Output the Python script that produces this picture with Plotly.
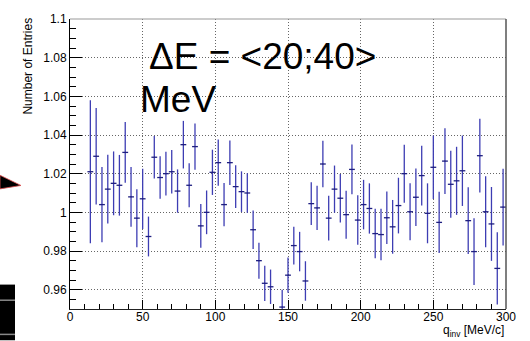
import plotly.graph_objects as go

# ---- data ----
q_inv = [14, 18, 22, 26, 30, 34, 38, 42, 46, 50, 54, 58, 62, 66, 70, 74, 78, 82,
         86, 90, 94, 98, 102, 106, 110, 114, 118, 122, 126, 130, 134, 138, 142, 146,
         150, 154, 158, 162, 166, 170, 174, 178, 182, 186, 190, 194, 198, 202, 206,
         210, 214, 218, 222, 226, 230, 234, 238, 242, 246, 250, 254, 258, 262, 266,
         270, 274, 278, 282, 286, 290, 294, 298]
entries = [1.021, 1.029, 1.004, 1.012, 1.015, 1.014, 1.031, 1.008, 0.997, 1.007,
           0.9875, 1.0285, 1.018, 1.020, 1.021, 1.011, 1.035, 1.014, 1.034, 0.993,
           1.000, 1.0207, 1.0257, 1.004, 1.0257, 1.0133, 1.0107, 1.010, 0.991, 0.975,
           0.9633, 0.9615, 0.938, 0.951, 0.9675, 0.9828, 0.9797, 0.9645, 1.0045, 1.0023,
           1.025, 0.997, 1.012, 1.0073, 0.9988, 1.0222, 0.996, 1.004, 1.002, 0.989,
           0.9885, 0.9972, 0.9925, 1.0035, 1.020, 1.0003, 1.0078, 1.019, 0.9995, 1.0233,
           0.9948, 1.0265, 1.0145, 1.0163, 1.0215, 0.9957, 0.9797, 1.0293, 1.0003, 0.994,
           0.971, 1.0027]
errors = [0.037, 0.025, 0.0195, 0.0178, 0.0165, 0.0157, 0.0157, 0.0154, 0.015, 0.0156,
          0.0103, 0.011, 0.011, 0.0113, 0.0113, 0.0112, 0.0123, 0.0114, 0.012, 0.0113,
          0.0113, 0.0117, 0.012, 0.0112, 0.0115, 0.011, 0.0105, 0.0102, 0.010, 0.0093,
          0.0091, 0.0089, 0.009, 0.009, 0.0091, 0.0098, 0.0102, 0.0102, 0.0111, 0.0115,
          0.012, 0.0116, 0.0122, 0.0125, 0.0124, 0.0129, 0.0128, 0.0128, 0.013, 0.0128,
          0.0133, 0.0136, 0.0139, 0.0144, 0.015, 0.0148, 0.0149, 0.0155, 0.0155, 0.0164,
          0.0158, 0.017, 0.0173, 0.0176, 0.0182, 0.0173, 0.0173, 0.0191, 0.0184, 0.0191,
          0.0187, 0.0199]
half_bin = [2] * len(q_inv)

x_tickvals = [0, 50, 100, 150, 200, 250, 300]
x_ticktext = ["0", "50", "100", "150", "200", "250", "300"]
y_tickvals = [0.96, 0.98, 1.0, 1.02, 1.04, 1.06, 1.08, 1.1]
y_ticktext = ["0.96", "0.98", "1", "1.02", "1.04", "1.06", "1.08", "1.1"]

FONT = "Liberation Sans, Arial, sans-serif"
W, H = 530, 341
L, R, T, B = 70, 506, 12, 309


def px(x):
    return (x - L) / (R - L)


def py(y):
    return (B - y) / (B - T)


fig = go.Figure()
fig.add_trace(go.Scatter(
    x=q_inv, y=entries, mode="markers",
    marker=dict(size=1, color="#20207a"),
    error_y=dict(type="data", array=errors, visible=True, color="#3d3db3",
                 thickness=1.3, width=0),
    error_x=dict(type="data", array=half_bin, visible=True, color="#1e1e80",
                 thickness=1.3, width=0),
    showlegend=False,
))

fig.update_layout(
    width=W, height=H,
    margin=dict(l=L, r=W - R, t=T, b=H - B),
    paper_bgcolor="white", plot_bgcolor="white",
    font=dict(family=FONT, size=12, color="black"),
    xaxis=dict(
        range=[0, 300], tickmode="array", tickvals=x_tickvals, ticktext=x_ticktext,
        ticks="inside", ticklen=9, tickcolor="#000", tickwidth=1,
        ticklabelstandoff=-3,
        showline=True, linecolor="#222", linewidth=1,
        showgrid=True, gridcolor="#666", griddash="1px,2px", gridwidth=1,
        zeroline=False,
        minor=dict(tickmode="linear", tick0=0, dtick=10, ticks="inside", ticklen=5,
                   tickcolor="#000", showgrid=False),
        tickfont=dict(family=FONT, size=12),
    ),
    yaxis=dict(
        range=[0.95, 1.1], tickmode="array", tickvals=y_tickvals, ticktext=y_ticktext,
        ticks="inside", ticklen=12, tickcolor="#000", tickwidth=1,
        showline=True, linecolor="#000", linewidth=1,
        showgrid=True, gridcolor="#666", griddash="1px,2px", gridwidth=1,
        zeroline=False,
        minor=dict(tickmode="linear", tick0=0.95, dtick=0.005, ticks="inside", ticklen=6,
                   tickcolor="#000", showgrid=False),
        tickfont=dict(family=FONT, size=12),
    ),
)

# frame (top & right)
fig.add_shape(type="line", xref="paper", yref="paper", x0=0, x1=1, y0=1, y1=1,
              line=dict(color="#999", width=1))
fig.add_shape(type="line", xref="paper", yref="paper", x0=1, x1=1, y0=0, y1=1,
              line=dict(color="#555", width=1.5))

# decorations at the left edge (cropped neighbours)
fig.add_shape(type="path", xref="paper", yref="paper",
              path=f"M {px(0)},{py(172)} L {px(21)},{py(182.5)} L {px(0)},{py(186)} Z",
              fillcolor="black", line=dict(color="#e05050", width=0.8))
fig.add_shape(type="rect", xref="paper", yref="paper",
              x0=px(0), x1=px(15), y0=py(341), y1=py(284),
              fillcolor="black", line=dict(width=0))
for yy in (300, 335):
    fig.add_shape(type="line", xref="paper", yref="paper",
                  x0=px(0), x1=px(15), y0=py(yy), y1=py(yy),
                  line=dict(color="#888", width=1.5))

# texts
fig.add_annotation(text="ΔE = <20;40>", xref="paper", yref="paper",
                   x=px(147), y=py(50), xanchor="left", yanchor="middle",
                   showarrow=False, font=dict(family=FONT, size=37, color="black"))
fig.add_annotation(text="MeV", xref="paper", yref="paper",
                   x=px(138), y=py(94), xanchor="left", yanchor="middle",
                   showarrow=False, font=dict(family=FONT, size=37, color="black"))
fig.add_annotation(text="Number of Entries", xref="paper", yref="paper",
                   x=px(28), y=py(9), xanchor="center", yanchor="top", textangle=-90,
                   showarrow=False, font=dict(family=FONT, size=12, color="black"))
fig.add_annotation(text="q<sub>inv</sub> [MeV/c]", xref="paper", yref="paper",
                   x=1, y=py(332), xanchor="right", yanchor="middle",
                   showarrow=False, font=dict(family=FONT, size=12, color="black"))

fig.write_html("out.html")
